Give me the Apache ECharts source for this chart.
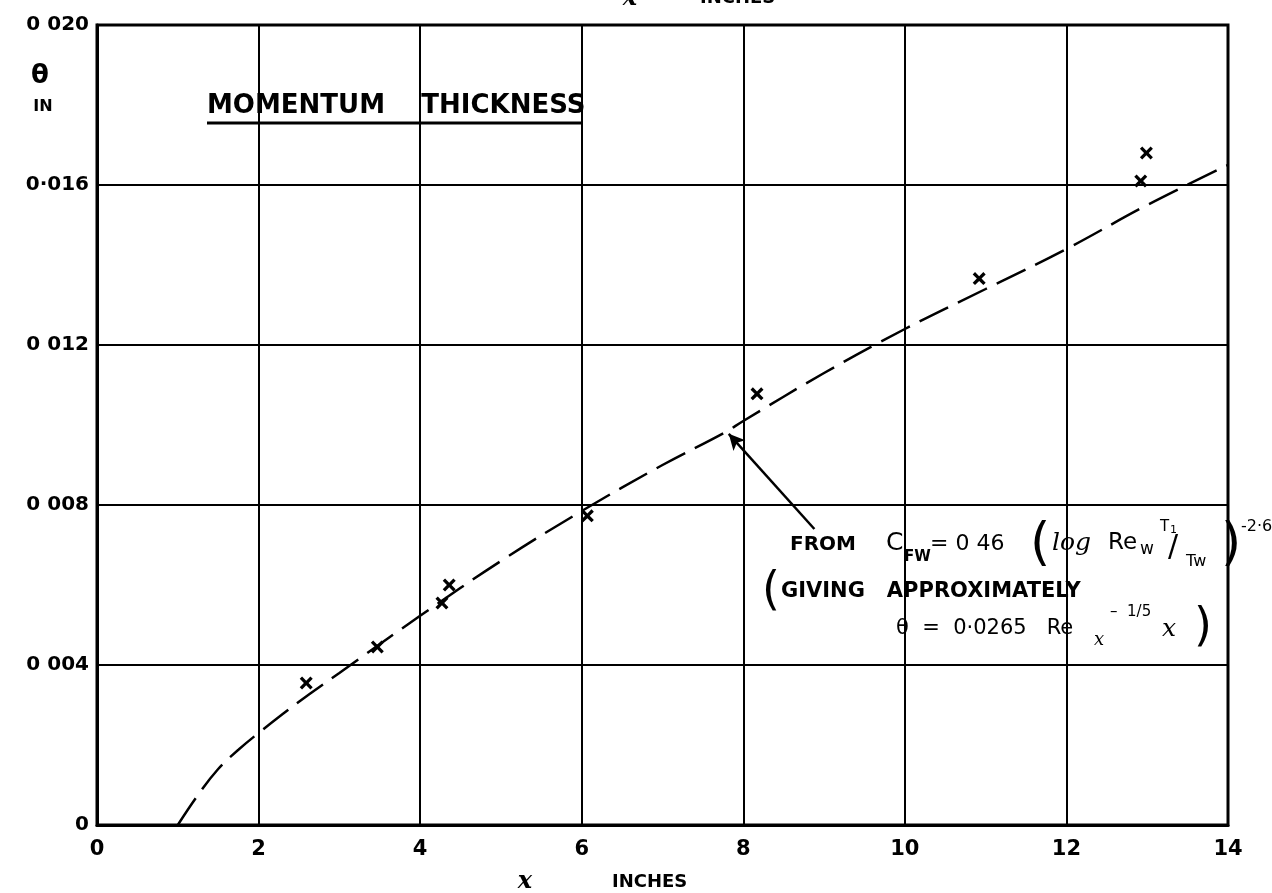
<!DOCTYPE html>
<html>
<head>
<meta charset="utf-8">
<script src="https://cdn.jsdelivr.net/npm/echarts@6/dist/echarts.min.js"></script>
<style>html,body{margin:0;padding:0;background:#fff}#c{width:1272px;height:893px}</style>
</head>
<body>
<div id="c"></div>
<script>
// x tick labels and y tick labels as lettered on the chart
var xTickLabels = ['0', '2', '4', '6', '8', '10', '12', '14'];
var yTickLabels = ['0', '0 004', '0 008', '0 012', '0·016', '0 020'];

// measured points (x in inches, theta in inches)
var measX = [2.59, 3.47, 4.27, 4.36, 6.07, 8.17, 10.92, 12.92, 12.99];
var measTheta = [0.00355, 0.00445, 0.00555, 0.0060, 0.00773, 0.01078, 0.01366, 0.0161, 0.0168];

// theoretical curve
var curveX = [1, 1.25, 1.5, 1.75, 2, 2.5, 3, 4, 5, 6, 7, 7.76, 8, 9, 10, 11, 12, 13, 14];
var curveTheta = [0, 0.00075, 0.0014, 0.00188, 0.0023, 0.00308, 0.0038, 0.00523, 0.0066, 0.00785, 0.0090, 0.0098, 0.0101, 0.0113, 0.0124, 0.0134, 0.0144, 0.0155, 0.0165];

// arrow annotation: tail and tip (data coords)
var arrowTail = [8.88, 0.0074];
var arrowTip = [7.82, 0.00978];

var F = '"DejaVu Sans", sans-serif';
var chart = echarts.init(document.getElementById('c'));

function txt(x, y, s, size, opts) {
  opts = opts || {};
  return {
    type: 'text', x: x, y: y, z: 100,
    style: {
      text: s,
      fill: '#000',
      font: (opts.italic ? 'italic ' : '') + (opts.weight || 'bold') + ' ' + size + 'px ' + (opts.family || F),
      textAlign: opts.align || 'left',
      textVerticalAlign: opts.valign || 'middle'
    }
  };
}

var option = {
  backgroundColor: '#fff',
  animation: false,
  grid: { left: 97, right: 44, top: 25, bottom: 68, show: true, borderColor: '#000', borderWidth: 3, backgroundColor: 'transparent' },
  xAxis: {
    type: 'value', min: 0, max: 14, interval: 2,
    axisLine: { show: true, lineStyle: { color: '#000', width: 3 } },
    axisTick: { show: false },
    splitLine: { show: true, lineStyle: { color: '#000', width: 2 } },
    axisLabel: {
      margin: 14, color: '#000', fontSize: 21, fontFamily: F, fontWeight: 'bold',
      formatter: function (v) { return xTickLabels[Math.round(v / 2)]; }
    }
  },
  yAxis: {
    type: 'value', min: 0, max: 0.02, interval: 0.004,
    axisLine: { show: true, lineStyle: { color: '#000', width: 3 } },
    axisTick: { show: false },
    splitLine: { show: true, lineStyle: { color: '#000', width: 2 } },
    axisLabel: {
      margin: 8, color: '#000', fontSize: 20, fontFamily: F, fontWeight: 'bold',
      formatter: function (v) { return yTickLabels[Math.round(v / 0.004)]; }
    }
  },
  series: [
    {
      type: 'line', name: 'theory',
      data: curveX.map(function (x, i) { return [x, curveTheta[i]]; }),
      smooth: 0.4, showSymbol: false, symbol: 'none',
      lineStyle: { color: '#000', width: 2.5, type: [32, 11] },
      z: 5,
      markLine: {
        silent: true, symbol: ['none', 'arrow'], symbolSize: [12, 16],
        label: { show: false },
        lineStyle: { color: '#000', width: 2.5, type: 'solid' },
        data: [[{ coord: arrowTail }, { coord: arrowTip }]]
      }
    },
    {
      type: 'scatter', name: 'measured',
      data: measX.map(function (x, i) { return [x, measTheta[i]]; }),
      symbol: 'path://M0,1.8 L1.8,0 L5,3.2 L8.2,0 L10,1.8 L6.8,5 L10,8.2 L8.2,10 L5,6.8 L1.8,10 L0,8.2 L3.2,5 Z',
      symbolSize: 13,
      itemStyle: { color: '#000', opacity: 1 },
      z: 6
    }
  ],
  graphic: [
    // top (cropped) axis caption
    txt(630, -1, 'x', 24, { italic: true, family: '"DejaVu Serif", serif', align: 'center' }),
    txt(700, -2, 'INCHES', 18, {}),
    // y-axis caption
    txt(40, 76, 'θ', 26, { align: 'center' }),
    txt(43, 107, 'IN', 16, { align: 'center' }),
    // title
    txt(207, 106, 'MOMENTUM    THICKNESS', 26, {}),
    { type: 'line', z: 100, shape: { x1: 207, y1: 123, x2: 582, y2: 123 }, style: { stroke: '#000', lineWidth: 3 } },
    // bottom axis caption
    txt(525, 882, 'x', 24, { italic: true, family: '"DejaVu Serif", serif', align: 'center' }),
    txt(612, 882, 'INCHES', 18, {}),
    // annotation line 1
    txt(790, 545, 'FROM', 20, {}),
    txt(886, 543, 'C', 25, { weight: 'normal' }),
    txt(904, 557, 'FW', 15, {}),
    txt(930, 544, '= 0 46', 22, { weight: 'normal' }),
    txt(1030, 545, '(', 52, { weight: 'normal' }),
    txt(1052, 543, 'log', 25, { italic: true, weight: 'normal', family: '"DejaVu Serif", serif' }),
    txt(1108, 543, 'Re', 23, { weight: 'normal' }),
    txt(1140, 550, 'w', 17, { weight: 'normal' }),
    txt(1160, 527, 'T', 15, { weight: 'normal' }),
    txt(1170, 530, '1', 11, { weight: 'normal' }),
    txt(1168, 548, '/', 30, { weight: 'normal' }),
    txt(1186, 562, 'Tw', 16, { weight: 'normal' }),
    txt(1221, 545, ')', 52, { weight: 'normal' }),
    txt(1241, 527, '-2·6', 16, { weight: 'normal' }),
    // annotation line 2
    txt(762, 592, '(', 46, { weight: 'normal' }),
    txt(781, 592, 'GIVING   APPROXIMATELY', 21, {}),
    // annotation line 3
    txt(896, 629, 'θ  =  0·0265   Re', 21, { weight: 'normal' }),
    txt(1094, 640, 'x', 18, { italic: true, weight: 'normal', family: '"DejaVu Serif", serif' }),
    txt(1110, 612, '–  1/5', 15, { weight: 'normal' }),
    txt(1162, 629, 'x', 25, { italic: true, weight: 'normal', family: '"DejaVu Serif", serif' }),
    txt(1194, 628, ')', 46, { weight: 'normal' })
  ]
};
chart.setOption(option);
</script>
</body>
</html>
